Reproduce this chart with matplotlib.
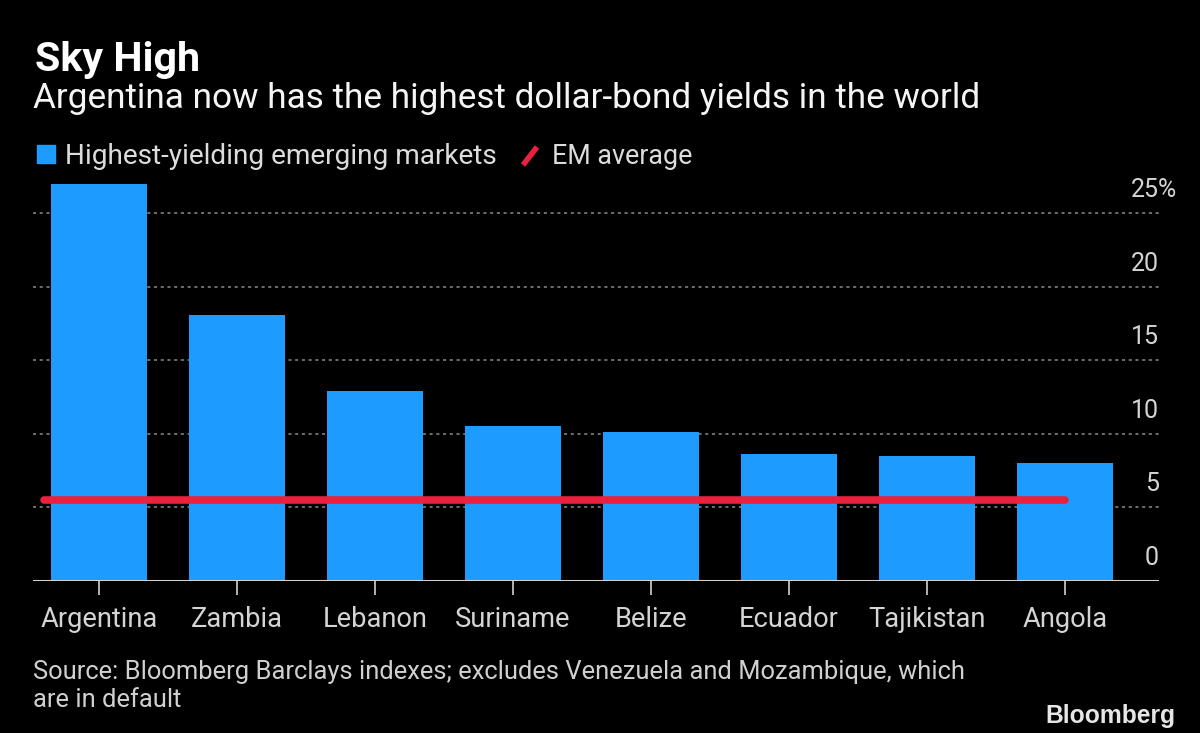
import matplotlib
matplotlib.use('Agg')
import matplotlib.pyplot as plt
from matplotlib import font_manager
from matplotlib.patches import Rectangle
from matplotlib.lines import Line2D
from matplotlib.transforms import blended_transform_factory

# ---- data ----
countries = ['Argentina', 'Zambia', 'Lebanon', 'Suriname', 'Belize', 'Ecuador', 'Tajikistan', 'Angola']
yields = [27.0, 18.1, 12.9, 10.5, 10.1, 8.6, 8.5, 8.0]
em_average = 5.5
y_ticks = [0, 5, 10, 15, 20, 25]
y_tick_labels = ['0', '5', '10', '15', '20', '25']

title = 'Sky High'
subtitle = 'Argentina now has the highest dollar-bond yields in the world'
legend_labels = ['Highest-yielding emerging markets', 'EM average']
source_lines = ['Source: Bloomberg Barclays indexes; excludes Venezuela and Mozambique, which',
                'are in default']

BAR_COLOR = '#1e9bff'
LINE_COLOR = '#e8213f'


def pick(names):
    for n in names:
        try:
            font_manager.findfont(font_manager.FontProperties(family=n), fallback_to_default=False)
            return n
        except Exception:
            pass
    return 'DejaVu Sans'


FONT = pick(['Liberation Sans Narrow', 'Roboto', 'Open Sans', 'DejaVu Sans'])
BOLD_FONT = pick(['Liberation Sans', 'Roboto', 'DejaVu Sans'])
plt.rcParams['font.family'] = [FONT, 'DejaVu Sans']

W, H = 1200, 733
fig = plt.figure(figsize=(12, 7.33), dpi=100, facecolor='black')
renderer = fig.canvas.get_renderer()


def fx(x):
    return x / W


def fy(y):
    return 1 - y / H


def fit_size(s, width_px, **kw):
    t = fig.text(0, 0, s, fontsize=20, **kw)
    w = t.get_window_extent(renderer).width
    t.remove()
    return 20 * width_px / w


def fit_text(x, y, s, width_px, **kw):
    size = fit_size(s, width_px, **{k: v for k, v in kw.items() if k in ('family', 'weight')})
    return fig.text(fx(x), fy(y), s, fontsize=size, va='baseline', **kw)


# ---- axes ----
px_per_unit = 14.72
y_base = 581
y_top = 27.2
ax_left, ax_right = 33, 1159
spacing, first_center = 138, 99
ax = fig.add_axes([fx(ax_left), (H - y_base) / H, (ax_right - ax_left) / W, y_top * px_per_unit / H])
ax.set_facecolor('black')
ax.set_ylim(0, y_top)
ax.set_xlim((ax_left - first_center) / spacing, (ax_right - first_center) / spacing)
for s in ax.spines.values():
    s.set_visible(False)

x = list(range(len(countries)))
for v in y_ticks[1:]:
    ax.axhline(v, color='#8c8c8c', lw=1.1, ls=(0, (2.0, 2.4)), zorder=1)
ax.bar(x, yields, width=0.7, color=BAR_COLOR, zorder=2)
ax.axhline(0, color='#d0d0d0', lw=1.5, zorder=4)
ax.plot([-0.4, x[-1]], [em_average, em_average], color=LINE_COLOR, lw=5.5,
        solid_capstyle='round', zorder=3)

ax.set_xticks(x)
ax.set_xticklabels([])
ax.set_yticks([])
ax.tick_params(axis='x', length=10, width=1.2, color='#d0d0d0', direction='out')

# x tick labels
xt = blended_transform_factory(ax.transData, fig.transFigure)
xsize = fit_size('Argentina', 117)
for xi, c in zip(x, countries):
    ax.text(xi, fy(627), c, transform=xt, ha='center', va='baseline', fontsize=xsize,
            color='#d4d4d4')

# y tick labels
yt = blended_transform_factory(fig.transFigure, ax.transData)
ysize = fit_size('20', 28)
off = 16 / px_per_unit
for v, lab in zip(y_ticks, y_tick_labels):
    ax.text(fx(ax_right), v + off, lab, transform=yt, ha='right', va='baseline',
            fontsize=ysize, color='#d4d4d4', clip_on=False)
ax.text(fx(ax_right - 1), y_ticks[-1] + off, '%', transform=yt, ha='left', va='baseline',
        fontsize=ysize, color='#d4d4d4', clip_on=False)

# ---- titles ----
fit_text(35, 71, title, 165, color='white', weight='bold')
fit_text(33, 108, subtitle, 945, color='#f5f5f5')

# ---- legend ----
fig.patches.append(Rectangle((fx(37), fy(163)), 18 / W, 18 / H, transform=fig.transFigure,
                             color=BAR_COLOR, figure=fig))
fit_text(65, 164, legend_labels[0], 432, color='#dcdcdc')
fig.lines.append(Line2D([fx(523), fx(537)], [fy(165), fy(147)], transform=fig.transFigure,
                        color=LINE_COLOR, lw=4, solid_capstyle='butt', figure=fig))
fit_text(552, 164, legend_labels[1], 140, color='#dcdcdc')

# ---- source ----
fit_text(33, 679, source_lines[0], 930, color='#d0d0d0')
src2 = fit_size(source_lines[0], 930)
fig.text(fx(33), fy(707), source_lines[1], fontsize=src2, va='baseline', color='#d0d0d0')

# ---- logo ----
bsize = fit_size('Bloomberg', 130, family=BOLD_FONT, weight='bold')
fig.text(fx(1175), fy(723), 'Bloomberg', fontsize=bsize, family=BOLD_FONT, weight='bold',
         ha='right', va='baseline', color='#e6e6e6')

fig.savefig('out.png', dpi=100, facecolor='black')
